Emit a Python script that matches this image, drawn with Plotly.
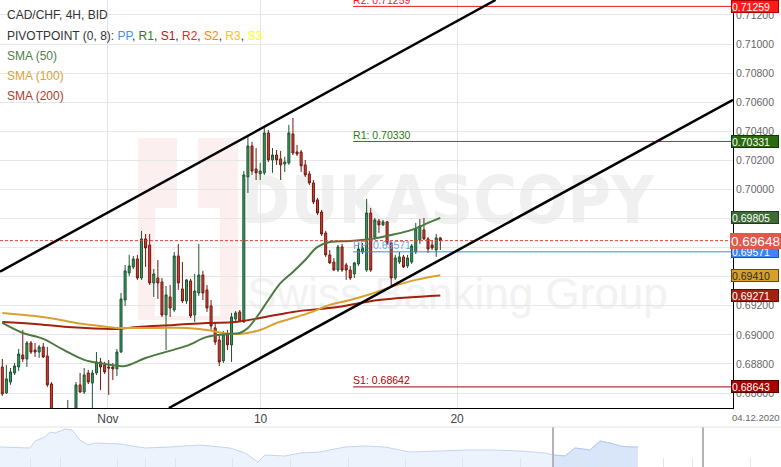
import plotly.graph_objects as go

# ---------------- data ----------------
opens = [
    0.68779, 0.68601, 0.68676, 0.68738, 0.68779, 0.68862, 0.68834, 0.68944, 0.68896, 0.68882,
    0.68917, 0.68855, 0.68662, 0.68415, 0.68332, 0.68380, 0.68360, 0.68429, 0.68470, 0.68656,
    0.68607, 0.68738, 0.68669, 0.68738, 0.68814, 0.68793, 0.68779, 0.68779, 0.68766, 0.68882,
    0.69240, 0.69426, 0.69467, 0.69522, 0.69391, 0.69660, 0.69618, 0.69357, 0.69391, 0.69364,
    0.69137, 0.69261, 0.69171, 0.69543, 0.69316, 0.69233, 0.69371, 0.69137, 0.69288, 0.69412,
    0.69309, 0.69199, 0.69048, 0.68965, 0.68821, 0.69006, 0.68931, 0.69109, 0.69158, 0.69089,
    0.70086, 0.70299, 0.70141, 0.70107, 0.70114, 0.70389, 0.70203, 0.70237, 0.70210, 0.70175,
    0.70182, 0.70382, 0.70258, 0.70258, 0.70169, 0.70107, 0.70045, 0.69928, 0.69845, 0.69701,
    0.69550, 0.69501, 0.69446, 0.69605, 0.69481, 0.69446, 0.69419, 0.69488, 0.69570, 0.69446,
    0.69838, 0.69673, 0.69783, 0.69756, 0.69777, 0.69632, 0.69391, 0.69501, 0.69536, 0.69474,
    0.69501, 0.69570, 0.69653, 0.69722, 0.69660, 0.69618, 0.69584, 0.69667]
highs = [
    0.68834, 0.68793, 0.68772, 0.68807, 0.68903, 0.69034, 0.68958, 0.68958, 0.68944, 0.68931,
    0.68944, 0.68917, 0.68676, 0.68449, 0.68415, 0.68429, 0.68552, 0.68484, 0.68676, 0.68738,
    0.68772, 0.68759, 0.68759, 0.68882, 0.68841, 0.68814, 0.68827, 0.68807, 0.68903, 0.69288,
    0.69481, 0.69550, 0.69543, 0.69550, 0.69715, 0.69694, 0.69694, 0.69453, 0.69515, 0.69391,
    0.69336, 0.69343, 0.69570, 0.69625, 0.69501, 0.69385, 0.69385, 0.69419, 0.69625, 0.69440,
    0.69343, 0.69240, 0.69089, 0.68999, 0.69027, 0.69034, 0.69151, 0.69164, 0.69171, 0.70127,
    0.70361, 0.70327, 0.70285, 0.70182, 0.70437, 0.70409, 0.70285, 0.70272, 0.70265, 0.70224,
    0.70444, 0.70492, 0.70306, 0.70272, 0.70203, 0.70127, 0.70065, 0.69942, 0.69859, 0.69715,
    0.69584, 0.69529, 0.69618, 0.69625, 0.69495, 0.69474, 0.69501, 0.69632, 0.69632, 0.69935,
    0.69873, 0.69804, 0.69797, 0.69790, 0.69783, 0.69639, 0.69550, 0.69570, 0.69550, 0.69550,
    0.69625, 0.69770, 0.69797, 0.69804, 0.69673, 0.69653, 0.69694, 0.69673]
lows = [
    0.68580, 0.68594, 0.68656, 0.68724, 0.68752, 0.68814, 0.68779, 0.68869, 0.68848, 0.68841,
    0.68841, 0.68642, 0.68360, 0.68277, 0.68305, 0.68346, 0.68332, 0.68380, 0.68449, 0.68601,
    0.68594, 0.68662, 0.68484, 0.68724, 0.68621, 0.68731, 0.68587, 0.68690, 0.68717, 0.68876,
    0.69199, 0.69405, 0.69453, 0.69378, 0.69378, 0.69467, 0.69343, 0.69261, 0.69247, 0.69123,
    0.68896, 0.69123, 0.69158, 0.69309, 0.69220, 0.69213, 0.69116, 0.69089, 0.69268, 0.69240,
    0.69158, 0.69034, 0.68931, 0.68786, 0.68807, 0.68896, 0.68814, 0.69089, 0.69089, 0.69082,
    0.69976, 0.70100, 0.70065, 0.70065, 0.70100, 0.70189, 0.70114, 0.70169, 0.70065, 0.70120,
    0.70169, 0.70237, 0.70230, 0.70120, 0.70086, 0.70031, 0.69900, 0.69825, 0.69680, 0.69536,
    0.69488, 0.69440, 0.69433, 0.69433, 0.69378, 0.69378, 0.69391, 0.69474, 0.69556, 0.69433,
    0.69433, 0.69653, 0.69701, 0.69749, 0.69618, 0.69330, 0.69378, 0.69488, 0.69460, 0.69460,
    0.69488, 0.69556, 0.69625, 0.69653, 0.69563, 0.69584, 0.69536, 0.69584]
closes = [
    0.68594, 0.68697, 0.68745, 0.68786, 0.68869, 0.68834, 0.68944, 0.68882, 0.68882, 0.68917,
    0.68848, 0.68656, 0.68415, 0.68332, 0.68380, 0.68360, 0.68449, 0.68470, 0.68656, 0.68607,
    0.68724, 0.68676, 0.68738, 0.68814, 0.68779, 0.68745, 0.68772, 0.68766, 0.68882, 0.69247,
    0.69440, 0.69474, 0.69522, 0.69391, 0.69660, 0.69598, 0.69357, 0.69419, 0.69357, 0.69137,
    0.69275, 0.69185, 0.69543, 0.69357, 0.69233, 0.69378, 0.69130, 0.69302, 0.69412, 0.69288,
    0.69185, 0.69061, 0.68951, 0.68814, 0.69006, 0.68931, 0.69123, 0.69151, 0.69096, 0.70100,
    0.70299, 0.70127, 0.70114, 0.70127, 0.70389, 0.70203, 0.70237, 0.70203, 0.70169, 0.70189,
    0.70389, 0.70251, 0.70244, 0.70162, 0.70100, 0.70045, 0.69914, 0.69838, 0.69694, 0.69550,
    0.69495, 0.69446, 0.69605, 0.69446, 0.69446, 0.69391, 0.69495, 0.69591, 0.69598, 0.69838,
    0.69446, 0.69790, 0.69756, 0.69777, 0.69632, 0.69391, 0.69529, 0.69536, 0.69467, 0.69529,
    0.69612, 0.69728, 0.69749, 0.69660, 0.69591, 0.69598, 0.69667, 0.69648]
candle_idx = list(range(len(opens)))

sma50_idx = [0, 5, 10, 15, 20, 25, 30, 35, 40, 45, 50, 55, 58, 60, 62, 65, 68, 71, 74, 77, 80, 85, 90, 95, 100, 104, 107]
sma50_val = [0.69082, 0.69013, 0.68972, 0.68896, 0.68828, 0.68800, 0.68786, 0.68841, 0.68883, 0.68924,
             0.68986, 0.69006, 0.69013, 0.69048, 0.69116, 0.69240, 0.69357, 0.69433, 0.69515, 0.69605,
             0.69639, 0.69646, 0.69660, 0.69687, 0.69722, 0.69770, 0.69805]
sma100_idx = [0, 8, 13, 18, 24, 28, 38, 45, 50, 54, 58, 63, 67, 71, 75, 80, 85, 90, 95, 101, 107]
sma100_val = [0.69151, 0.69130, 0.69109, 0.69082, 0.69061, 0.69048, 0.69048, 0.69048, 0.69034, 0.69013,
              0.69006, 0.69034, 0.69082, 0.69116, 0.69151, 0.69206, 0.69240, 0.69281, 0.69330, 0.69378, 0.69410]
sma200_idx = [0, 8, 16, 28, 33, 42, 50, 57, 63, 71, 82, 92, 107]
sma200_val = [0.69089, 0.69075, 0.69054, 0.69041, 0.69054, 0.69068, 0.69082, 0.69089, 0.69116, 0.69158,
              0.69192, 0.69240, 0.69271]

# channel lines (index, price)
upper_x = [-0.56, 120.5]
upper_y = [0.69435, 0.71303]
lower_x = [40.7, 178.5]
lower_y = [0.68497, 0.70616]

x_tick_vals = [25.8, 63.1, 111.1]
x_tick_text = ["Nov", "10", "20"]
y_tick_vals = [0.686, 0.688, 0.690, 0.692, 0.694, 0.696, 0.698, 0.700, 0.702, 0.704, 0.706, 0.708, 0.710, 0.712]

pivot_start = 85.7
pivot_names = ["R2", "R1", "PP", "S1"]
pivot_vals = [0.71259, 0.70330, 0.69571, 0.68642]
pivot_colors = ["#f01818", "#2e7a10", "#3c86f0", "#a80000"]
pivot_text_colors = ["#f01818", "#2e7a10", "#6fa4f2", "#a80000"]

# right-hand price tags: value, background, text colour, border
tag_vals = [0.71259, 0.70331, 0.69805, 0.69571, 0.69410, 0.69271, 0.68643]
tag_bg = ["#ff1a1a", "#2a6a0e", "#3d6b35", "#3c86f0", "#d8a02a", "#a3210f", "#a80000"]
tag_fg = ["white", "white", "white", "white", "#2a2a2a", "white", "white"]
tag_bd = ["#b00000", "#163a06", "#1f3d1a", "#1f55b0", "#6a4a08", "#5a1006", "#5a0000"]

nav_day = [0, 6, 7, 9, 10, 11, 13, 14.4, 16, 17.6, 19, 24, 29, 34, 40, 46, 49, 51.6, 53, 57,
           60, 64, 69, 73, 77, 82, 88, 93, 98, 104, 109, 110.6, 113, 115, 118, 120, 122, 124, 126, 127.6]
nav_val = [0.695, 0.694, 0.701, 0.705, 0.710, 0.709, 0.713, 0.712, 0.702, 0.697, 0.699, 0.698, 0.694,
           0.695, 0.697, 0.694, 0.689, 0.680, 0.687, 0.686, 0.689, 0.690, 0.695, 0.696, 0.695, 0.690,
           0.691, 0.692, 0.692, 0.691, 0.689, 0.687, 0.686, 0.694, 0.692, 0.701, 0.699, 0.696, 0.695, 0.695]
nav_window = [110.6, 140.6]
nav_ticks = [6, 12, 23.4, 29, 35, 46.4, 58, 69.6, 81, 92.4, 104, 115.6, 121, 132.6, 138.4, 150]

# ---------------- layout helpers ----------------
W, H = 781, 467
PLOT_R = 733
PLOT_B = 408
def px(x):
    return x / W
def py(y):
    return 1 - y / H

XR = [-0.562, 178.5]
YR = [0.68497, 0.71303]

fig = go.Figure()

fig.add_trace(go.Candlestick(
    x=candle_idx, open=opens, high=highs, low=lows, close=closes,
    increasing=dict(line=dict(color="#1d5530", width=1), fillcolor="#3f9464"),
    decreasing=dict(line=dict(color="#701810", width=1), fillcolor="#d3432f"),
    whiskerwidth=0, showlegend=False, hoverinfo="skip"))

fig.add_trace(go.Scatter(x=sma200_idx, y=sma200_val, mode="lines",
                         line=dict(color="#a3200c", width=2, shape="spline"), hoverinfo="skip"))
fig.add_trace(go.Scatter(x=sma100_idx, y=sma100_val, mode="lines",
                         line=dict(color="#d9a030", width=2, shape="spline"), hoverinfo="skip"))
fig.add_trace(go.Scatter(x=sma50_idx, y=sma50_val, mode="lines",
                         line=dict(color="#4a7a40", width=2, shape="spline"), hoverinfo="skip"))

# pivot lines
for name, val, col, tcol in zip(pivot_names, pivot_vals, pivot_colors, pivot_text_colors):
    fig.add_trace(go.Scatter(x=[pivot_start, XR[1]], y=[val, val], mode="lines",
                             line=dict(color=col, width=1), hoverinfo="skip"))
    fig.add_trace(go.Scatter(x=[pivot_start], y=[val], mode="text",
                             text=[f"{name}: {val:.5f}"], textposition="top right",
                             textfont=dict(size=10.5, color=tcol, family="Arial"), hoverinfo="skip"))

# current price dashed line
fig.add_trace(go.Scatter(x=XR, y=[closes[-1], closes[-1]], mode="lines",
                         line=dict(color="#e04030", width=1, dash="3px,2px"), hoverinfo="skip"))

# channel
fig.add_trace(go.Scatter(x=upper_x, y=upper_y, mode="lines", line=dict(color="black", width=2.5), hoverinfo="skip"))
fig.add_trace(go.Scatter(x=lower_x, y=lower_y, mode="lines", line=dict(color="black", width=2.5), hoverinfo="skip"))

# navigator
fig.add_trace(go.Scatter(x=nav_day, y=nav_val, mode="lines", fill="tozeroy",
                         fillcolor="#edf3fc", line=dict(color="#c3d5f2", width=1),
                         xaxis="x2", yaxis="y2", hoverinfo="skip"))
fig.add_trace(go.Scatter(x=nav_day[31:], y=nav_val[31:], mode="lines", fill="tozeroy",
                         fillcolor="#d9e5f8", line=dict(color="#b5cbef", width=1),
                         xaxis="x2", yaxis="y2", hoverinfo="skip"))
for d in nav_window:
    fig.add_shape(type="line", xref="x2", yref="paper", x0=d, x1=d, y0=0, y1=py(427),
                  line=dict(color="#b4b4b4", width=2))
fig.add_shape(type="line", xref="paper", yref="paper", x0=0, x1=1, y0=py(427), y1=py(427),
              line=dict(color="#e2e2e2", width=1))

# watermark
fig.add_shape(type="rect", xref="paper", yref="paper", x0=px(138), x1=px(238), y0=py(320), y1=py(138),
              fillcolor="#fcefef", line=dict(width=0), layer="below")
fig.add_shape(type="rect", xref="paper", yref="paper", x0=px(155), x1=px(220), y0=py(316), y1=py(208),
              fillcolor="white", line=dict(width=0), layer="below")
fig.add_shape(type="rect", xref="paper", yref="paper", x0=px(177), x1=px(198), y0=py(208), y1=py(138),
              fillcolor="white", line=dict(width=0), layer="below")
fig.add_shape(type="rect", xref="paper", yref="paper", x0=px(250), x1=px(645), y0=py(242), y1=py(148),
              fillcolor="rgba(0,0,0,0)", line=dict(width=0), layer="below",
              label=dict(text="<b>DUKASCOPY</b>", textposition="middle center",
                         font=dict(size=66, color="#f0f0f0", family="DejaVu Sans Condensed")))
fig.add_shape(type="rect", xref="paper", yref="paper", x0=px(250), x1=px(665), y0=py(320), y1=py(258),
              fillcolor="rgba(0,0,0,0)", line=dict(width=0), layer="below",
              label=dict(text="Swiss Banking Group", textposition="middle center",
                         font=dict(size=44, color="#f2f2f2", family="Arial")))

# header texts
legend_lines = [
    ("CAD/CHF, 4H, BID", 15),
    ('PIVOTPOINT (0, 8): <span style="color:#4a8ef0">PP</span>, <span style="color:#2e7d12">R1</span>, '
     '<span style="color:#b01818">S1</span>, <span style="color:#ff2020">R2</span>, '
     '<span style="color:#ff8800">S2</span>, <span style="color:#ffc400">R3</span>, '
     '<span style="color:#ffff00">S3</span>', 36),
    ('<span style="color:#4f7d45">SMA (50)</span>', 56),
    ('<span style="color:#d9a23a">SMA (100)</span>', 76),
    ('<span style="color:#b33a2a">SMA (200)</span>', 96),
]
for txt, yy in legend_lines:
    fig.add_annotation(xref="paper", yref="paper", x=px(5), y=py(yy), xanchor="left", yanchor="middle",
                       text=txt, showarrow=False, font=dict(size=12, color="#333333", family="Arial"))

# price tags
for val, bg, fg, bd in zip(tag_vals, tag_bg, tag_fg, tag_bd):
    fig.add_annotation(xref="paper", yref="y", x=px(730.5), y=val, xanchor="left", yanchor="middle",
                       text=f"{val:.5f}", showarrow=False, bgcolor=bg, bordercolor=bd, borderwidth=1,
                       borderpad=0, width=46, height=11, align="left",
                       font=dict(size=10.5, color=fg, family="Arial"))
fig.add_annotation(xref="paper", yref="y", x=px(730), y=closes[-1], xanchor="left", yanchor="middle",
                   text=f"{closes[-1]:.5f}", showarrow=False, bgcolor="#e05a4a", bordercolor="#e05a4a",
                   borderwidth=1, borderpad=0, width=49, height=14, align="center",
                   font=dict(size=13.5, color="white", family="Arial"))

fig.add_annotation(xref="paper", yref="paper", x=px(756), y=py(417), xanchor="center", yanchor="middle",
                   text="04.12.2020", showarrow=False, font=dict(size=9.5, color="#666666", family="Arial"))

fig.update_layout(
    width=W, height=H, margin=dict(l=0, r=0, t=0, b=0),
    paper_bgcolor="white", plot_bgcolor="white", showlegend=False,
    xaxis=dict(domain=[0, px(PLOT_R)], range=XR, tickvals=x_tick_vals, ticktext=x_tick_text,
               showgrid=True, gridcolor="#e4e4e4", showline=True, linecolor="black", linewidth=1,
               ticks="", zeroline=False, automargin=False, rangeslider=dict(visible=False),
               tickfont=dict(size=12, color="#444444", family="Arial"), fixedrange=True),
    yaxis=dict(domain=[1 - PLOT_B / H, 1], range=YR, side="right", tickvals=y_tick_vals,
               tickformat=".5f", showgrid=True, gridcolor="#e6e6e6", showline=True,
               linecolor="black", linewidth=1, ticks="", zeroline=False, automargin=False,
               tickfont=dict(size=10.5, color="#666666", family="Arial"), fixedrange=True),
    xaxis2=dict(domain=[0, 1], anchor="y2", range=[0, W / 5], showticklabels=False, showgrid=False,
                ticks="inside", ticklen=9, tickcolor="#e4e4e4", tickvals=nav_ticks, showline=False,
                zeroline=False, automargin=False, fixedrange=True),
    yaxis2=dict(domain=[0, 40 / H], anchor="x2", range=[0.675, 0.715], visible=False,
                automargin=False, fixedrange=True),
)

fig.write_html("out.html", config={"displayModeBar": False},
               post_script="document.body.style.margin='0';document.body.style.overflow='hidden';")
